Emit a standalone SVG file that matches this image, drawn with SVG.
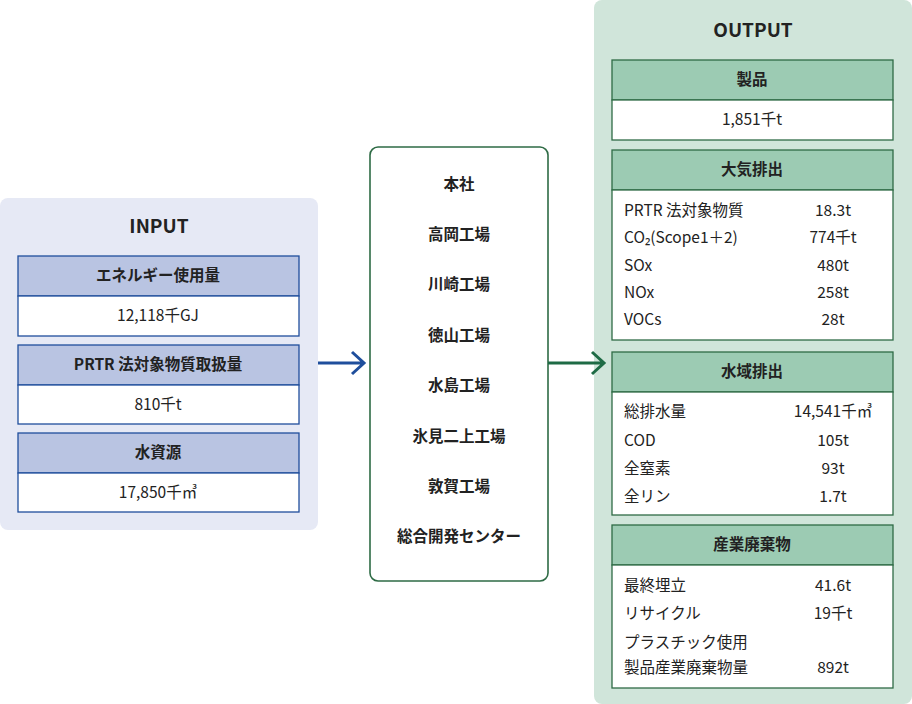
<svg xmlns="http://www.w3.org/2000/svg" width="912" height="704" viewBox="0 0 912 704">
<style>
text{font-family:"Noto Sans CJK JP","Noto Sans",sans-serif;fill:#222;font-size:15.5px}
.t{font-size:19px;font-weight:bold;text-anchor:middle}
.h{font-weight:bold;text-anchor:middle}
.c{text-anchor:middle}
.ih{fill:#b9c4e2;stroke:#1f4e9c;stroke-width:1.3}
.iv{fill:#fff;stroke:#1f4e9c;stroke-width:1.3}
.oh{fill:#9ccbb3;stroke:#2e6b45;stroke-width:1.3}
.ov{fill:#fff;stroke:#2e6b45;stroke-width:1.3}
</style>
<g id="input">
<rect x="0" y="198" width="318" height="332" rx="8" fill="#e6e9f5"/>
<text class="t" x="159" y="233">INPUT</text>
<rect class="ih" x="18" y="256" width="281" height="40"/><text class="h" x="158" y="281">エネルギー使用量</text>
<rect class="iv" x="18" y="296" width="281" height="40"/><text class="c" x="158" y="321">12,118千GJ</text>
<rect class="ih" x="18" y="345" width="281" height="40"/><text class="h" x="158" y="370">PRTR 法対象物質取扱量</text>
<rect class="iv" x="18" y="385" width="281" height="39"/><text class="c" x="158" y="410">810千t</text>
<rect class="ih" x="18" y="433" width="281" height="40"/><text class="h" x="158" y="458">水資源</text>
<rect class="iv" x="18" y="473" width="281" height="39"/><text class="c" x="158" y="498">17,850千㎥</text>
</g>
<g id="sites">
<rect x="370" y="147" width="178" height="434" rx="8" fill="#fff" stroke="#2e6b45" stroke-width="1.6"/>
<text class="h" x="459" y="190">本社</text>
<text class="h" x="459" y="240">高岡工場</text>
<text class="h" x="459" y="290">川崎工場</text>
<text class="h" x="459" y="341">徳山工場</text>
<text class="h" x="459" y="391">水島工場</text>
<text class="h" x="459" y="442">氷見二上工場</text>
<text class="h" x="459" y="492">敦賀工場</text>
<text class="h" x="459" y="542">総合開発センター</text>
</g>
<g id="output">
<rect x="594" y="0" width="318" height="704" rx="8" fill="#d0e5da"/>
<text class="t" x="753" y="37">OUTPUT</text>
<rect class="oh" x="612" y="60" width="281" height="40"/><text class="h" x="752" y="85">製品</text>
<rect class="ov" x="612" y="100" width="281" height="40"/><text class="c" x="752" y="125">1,851千t</text>
<rect class="oh" x="612" y="150" width="281" height="40"/><text class="h" x="752" y="175">大気排出</text>
<rect class="ov" x="612" y="190" width="281" height="150"/>
<text x="624" y="216">PRTR 法対象物質</text><text class="c" x="833" y="216">18.3t</text>
<text x="624" y="243">CO₂(Scope1＋2)</text><text class="c" x="833" y="243">774千t</text>
<text x="624" y="271">SOx</text><text class="c" x="833" y="271">480t</text>
<text x="624" y="298">NOx</text><text class="c" x="833" y="298">258t</text>
<text x="624" y="325">VOCs</text><text class="c" x="833" y="325">28t</text>
<rect class="oh" x="612" y="352" width="281" height="40"/><text class="h" x="752" y="377">水域排出</text>
<rect class="ov" x="612" y="392" width="281" height="123"/>
<text x="624" y="417">総排水量</text><text class="c" x="833" y="417">14,541千㎥</text>
<text x="624" y="446">COD</text><text class="c" x="833" y="446">105t</text>
<text x="624" y="474">全窒素</text><text class="c" x="833" y="474">93t</text>
<text x="624" y="502">全リン</text><text class="c" x="833" y="502">1.7t</text>
<rect class="oh" x="612" y="525" width="281" height="40"/><text class="h" x="752" y="550">産業廃棄物</text>
<rect class="ov" x="612" y="565" width="281" height="123"/>
<text x="624" y="591">最終埋立</text><text class="c" x="833" y="591">41.6t</text>
<text x="624" y="619">リサイクル</text><text class="c" x="833" y="619">19千t</text>
<text x="624" y="648">プラスチック使用</text>
<text x="624" y="673">製品産業廃棄物量</text><text class="c" x="833" y="673">892t</text>
</g>
<g id="connectors" fill="none" stroke-width="3">
<path d="M318 363H364M352 352L364 363L352 374" stroke="#1f4e9c"/>
<path d="M548 363H604M592 352L604 363L592 374" stroke="#1e6b45"/>
</g>
</svg>
